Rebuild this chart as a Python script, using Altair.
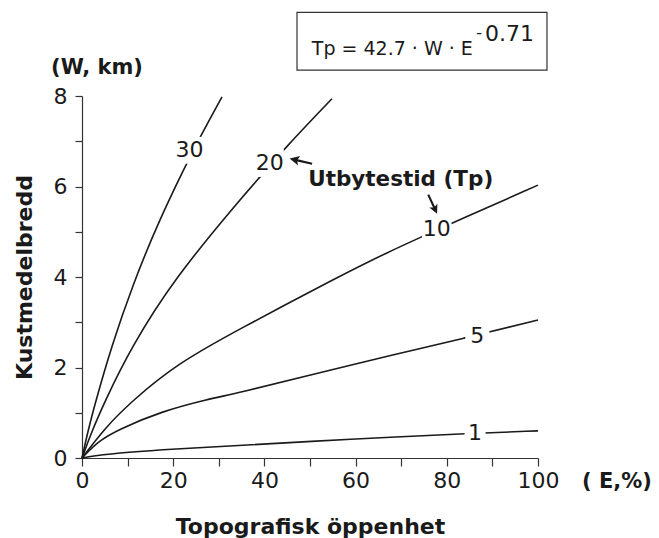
import altair as alt
import pandas as pd

# Curves: E (topografisk öppenhet, %) and W (kustmedelbredd, km)
tp_values = [1, 5, 10, 20, 30]
E_tp1 = [0, 2, 10, 20, 34, 50, 68, 84, 100]
W_tp1 = [0, 0.04, 0.13, 0.20, 0.27, 0.37, 0.46, 0.54, 0.60]
E_tp5 = [0, 3.5, 8, 17.4, 27.6, 34, 50, 68, 84, 100]
W_tp5 = [0, 0.37, 0.63, 1.03, 1.30, 1.43, 1.83, 2.28, 2.65, 3.05]
E_tp10 = [0, 5, 10.8, 21.1, 34, 55.5, 67.5, 75, 81.6, 100]
W_tp10 = [0, 0.66, 1.25, 2.10, 2.82, 3.97, 4.57, 4.91, 5.21, 6.03]
E_tp20 = [0, 2, 5, 10.8, 20.3, 34.2, 39.4, 44.5, 54.8]
W_tp20 = [0, 0.55, 1.25, 2.45, 3.97, 5.66, 6.25, 6.85, 7.94]
E_tp30 = [0, 1.3, 2.8, 6.4, 11.2, 16.7, 22.5, 26.2, 30.7]
W_tp30 = [0, 0.59, 1.18, 2.45, 3.85, 5.20, 6.42, 7.15, 7.98]

# Curve labels
label_text = ["30", "20", "10", "5", "1"]
label_E = [23.6, 41.2, 77.8, 86.7, 86.2]
label_W = [6.80, 6.52, 5.07, 2.69, 0.55]
label_mask = [720, 780, 870, 580, 440]

x_ticks = [0, 10, 20, 30, 40, 50, 60, 70, 80, 90, 100]
y_ticks = [0, 1, 2, 3, 4, 5, 6, 7, 8]

FONT = "DejaVu Sans"
INK = "#1a1a1a"

rows = []
for tp, es, ws in zip(tp_values,
                      [E_tp1, E_tp5, E_tp10, E_tp20, E_tp30],
                      [W_tp1, W_tp5, W_tp10, W_tp20, W_tp30]):
    for e, w in zip(es, ws):
        rows.append({"Tp": tp, "E": e, "W": w})
curves_df = pd.DataFrame(rows)
labels_df = pd.DataFrame({"txt": label_text, "E": label_E, "W": label_W, "m": label_mask})

xs = alt.Scale(domain=[0, 100], nice=False, zero=True)
ys = alt.Scale(domain=[0, 8], nice=False, zero=True)

x_enc = alt.X("E:Q", scale=xs, axis=alt.Axis(
    values=x_ticks, labelExpr="datum.value % 20 == 0 ? datum.label : ''",
    title="Topografisk öppenhet", grid=False, tickSize=8, labelPadding=4,
    titlePadding=25, titleFontSize=22, titleFont=FONT, titleFontWeight="bold",
    labelFont=FONT, labelFontSize=22, labelFontWeight="normal", labelColor=INK, titleColor=INK,
    domainColor="#333", tickColor="#333", domainWidth=1.2, tickWidth=1.2,
    labelFlush=False, labelOverlap=False))
y_enc = alt.Y("W:Q", scale=ys, axis=alt.Axis(
    values=y_ticks, labelExpr="datum.value % 2 == 0 ? datum.label : ''",
    title="Kustmedelbredd", grid=False, tickSize=7, labelPadding=8,
    titlePadding=17, titleFontSize=22, titleFont=FONT, titleFontWeight="bold",
    labelFont=FONT, labelFontSize=22, labelFontWeight="normal", labelColor=INK, titleColor=INK,
    domainColor="#333", tickColor="#333", domainWidth=1.2, tickWidth=1.2,
    labelFlush=False, labelOverlap=False))

curves = alt.Chart(curves_df).mark_line(
    color=INK, strokeWidth=1.6, interpolate="basis"
).encode(x=x_enc, y=y_enc, detail="Tp:N", order="E:Q")

masks = alt.Chart(labels_df).mark_point(
    shape="square", filled=True, color="white", opacity=1, strokeWidth=0
).encode(x=alt.X("E:Q", scale=xs), y=alt.Y("W:Q", scale=ys),
         size=alt.Size("m:Q", scale=None, legend=None))

labels = alt.Chart(labels_df).mark_text(
    font=FONT, fontSize=22, color=INK, baseline="middle", align="center"
).encode(x=alt.X("E:Q", scale=xs), y=alt.Y("W:Q", scale=ys), text="txt:N")

# Annotations
ann_df = pd.DataFrame({"E": [0.0], "W": [0.0]})

box = alt.Chart(ann_df).mark_rect(fill="white", stroke="#333", strokeWidth=1.2).encode(
    x=alt.datum(47.15, scale=xs), x2=alt.datum(101.97),
    y=alt.datum(9.85, scale=ys), y2=alt.datum(8.57))

formula = alt.Chart(ann_df).mark_text(
    font=FONT, fontSize=19, color=INK, align="left", baseline="alphabetic", text="Tp = 42.7 · W · E"
).encode(x=alt.datum(50.4, scale=xs), y=alt.datum(8.906, scale=ys))

minus = alt.Chart(ann_df).mark_text(
    font=FONT, fontSize=16, color=INK, align="center", baseline="middle", text="-"
).encode(x=alt.datum(87.1, scale=xs), y=alt.datum(9.40, scale=ys))

expo = alt.Chart(ann_df).mark_text(
    font=FONT, fontSize=22, color=INK, align="left", baseline="middle", text="0.71"
).encode(x=alt.datum(88.4, scale=xs), y=alt.datum(9.36, scale=ys))

wkm = alt.Chart(ann_df).mark_text(
    font=FONT, fontSize=21, fontWeight="bold", color=INK, align="center", baseline="middle",
    text="(W, km)", dx=15, dy=-28
).encode(x=alt.datum(0, scale=xs), y=alt.datum(8, scale=ys))

epct = alt.Chart(ann_df).mark_text(
    font=FONT, fontSize=21, fontWeight="bold", color=INK, align="left", baseline="middle",
    text="( E,%)", dx=44, dy=24
).encode(x=alt.datum(100, scale=xs), y=alt.datum(0, scale=ys))

utb = alt.Chart(ann_df).mark_text(
    font=FONT, fontSize=21.5, fontWeight="bold", color=INK, align="left", baseline="middle",
    text="Utbytestid (Tp)"
).encode(x=alt.datum(49.6, scale=xs), y=alt.datum(6.14, scale=ys))

ARROW = "M0,-1L0.42,-0.15L0.1,-0.3L0.1,1L-0.1,1L-0.1,-0.3L-0.42,-0.15Z"
arrow1 = alt.Chart(ann_df).mark_point(
    shape=ARROW, filled=True, color=INK, opacity=1, size=530, angle=283, strokeWidth=0
).encode(x=alt.datum(48.0, scale=xs), y=alt.datum(6.56, scale=ys))
arrow2 = alt.Chart(ann_df).mark_point(
    shape=ARROW, filled=True, color=INK, opacity=1, size=440, angle=155, strokeWidth=0
).encode(x=alt.datum(76.9, scale=xs), y=alt.datum(5.61, scale=ys))

chart = alt.layer(
    curves, masks, labels, box, formula, minus, expo, wkm, epct, utb, arrow1, arrow2
).properties(
    width=456, height=362,
    autosize=alt.AutoSizeParams(type="none"),
    padding={"left": 82, "top": 96, "right": 121, "bottom": 80},
    background="white"
).configure_view(stroke=None)

chart.save("out.html", embed_options={"renderer": "svg", "actions": False})
